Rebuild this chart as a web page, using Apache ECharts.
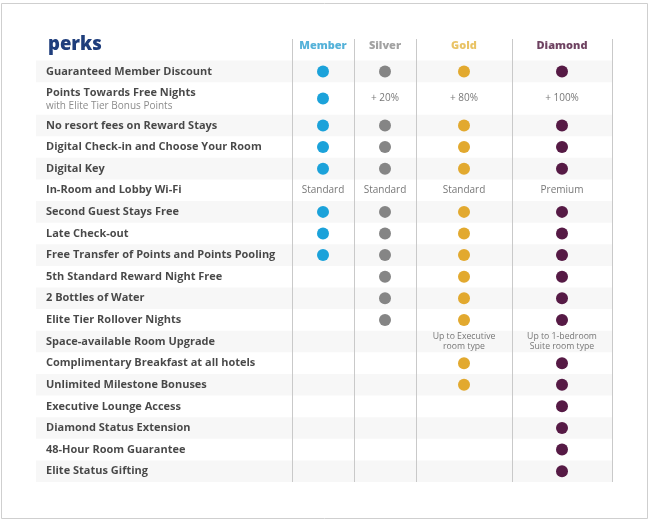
<!DOCTYPE html>
<html>
<head>
<meta charset="utf-8">
<script src="https://cdn.jsdelivr.net/npm/echarts@6/dist/echarts.min.js"></script>
<style>
html, body { margin: 0; padding: 0; background: #fff; }
#chart { width: 649px; height: 521px; }
</style>
</head>
<body>
<div id="chart"></div>
<script>
/* perks table */
var tiers = ['Member', 'Silver', 'Gold', 'Diamond'];
var perks = [
    'Guaranteed Member Discount',
    'Points Towards Free Nights',
    'No resort fees on Reward Stays',
    'Digital Check-in and Choose Your Room',
    'Digital Key',
    'In-Room and Lobby Wi-Fi',
    'Second Guest Stays Free',
    'Late Check-out',
    'Free Transfer of Points and Points Pooling',
    '5th Standard Reward Night Free',
    '2 Bottles of Water',
    'Elite Tier Rollover Nights',
    'Space-available Room Upgrade',
    'Complimentary Breakfast at all hotels',
    'Unlimited Milestone Bonuses',
    'Executive Lounge Access',
    'Diamond Status Extension',
    '48-Hour Room Guarantee',
    'Elite Status Gifting'
];
var perkNotes = ['', 'with Elite Tier Bonus Points', '', '', '', '', '', '', '', '', '', '', '', '', '', '', '', '', ''];
// 1 = dot, 0 = nothing, text = shown as text
var member  = [1, 1, 1, 1, 1, 'Standard', 1, 1, 1, 0, 0, 0, 0, 0, 0, 0, 0, 0, 0];
var silver  = [1, '+ 20%', 1, 1, 1, 'Standard', 1, 1, 1, 1, 1, 1, 0, 0, 0, 0, 0, 0, 0];
var gold    = [1, '+ 80%', 1, 1, 1, 'Standard', 1, 1, 1, 1, 1, 1, 'Up to Executive\nroom type', 1, 1, 0, 0, 0, 0];
var diamond = [1, '+ 100%', 1, 1, 1, 'Premium', 1, 1, 1, 1, 1, 1, 'Up to 1-bedroom\nSuite room type', 1, 1, 1, 1, 1, 1];
var tierValues = [member, silver, gold, diamond];

// layout
var dotColors = ['#1ba2da', '#858585', '#e2a92f', '#561a45'];
var headColors = ['#2b9fd0', '#8b8b8b', '#e4b43e', '#4a1339'];
var colEdges = [0, 256, 318, 380, 476, 576];
var rowSpan = perks.map(function (p, i) { return perkNotes[i] ? 1.5 : 1; });
var rowTop = [];
var acc = 0;
rowSpan.forEach(function (s) { rowTop.push(acc); acc += s; });
var rowEnd = acc;
function rowMid(i) { return rowTop[i] + rowSpan[i] / 2; }
function colMid(j) { return (colEdges[j + 1] + colEdges[j + 2]) / 2; }

var font = 'Open Sans';
var myChart = echarts.init(document.getElementById('chart'));

var bands = [];
perks.forEach(function (p, i) {
    if (i % 2 === 0) {
        bands.push([{ coord: [0, rowTop[i]] }, { coord: [576, rowTop[i] + rowSpan[i]] }]);
    }
});
var lines = colEdges.slice(1).map(function (e) {
    return [{ coord: [e, -1] }, { coord: [e, rowEnd] }];
});

var series = [{
    type: 'scatter',
    data: [],
    silent: true,
    z: 1,
    markArea: { silent: true, itemStyle: { color: '#f7f7f7' }, data: bands },
    markLine: {
        silent: true,
        symbol: ['none', 'none'],
        label: { show: false },
        lineStyle: { color: '#c9c9c9', width: 1, type: 'solid' },
        data: lines
    }
}, {
    type: 'scatter',
    symbolSize: 0,
    silent: true,
    z: 3,
    data: perks.map(function (p, i) {
        return { name: p, value: [10, rowMid(i)], note: perkNotes[i] };
    }),
    label: {
        show: true,
        position: 'right',
        distance: 0,
        formatter: function (d) {
            return d.data.note ? '{a|' + d.name + '}\n{b|' + d.data.note + '}' : '{a|' + d.name + '}';
        },
        rich: {
            a: { fontFamily: font, fontWeight: 'bold', fontSize: 11, color: '#1a1a1a', lineHeight: 15 },
            b: { fontFamily: font, fontSize: 10, color: '#6e6e6e', lineHeight: 12 }
        }
    }
}, {
    type: 'scatter',
    symbolSize: 0,
    silent: true,
    z: 3,
    data: tiers.map(function (t, j) {
        return {
            name: t,
            value: [colMid(j), -0.68],
            label: { color: headColors[j] }
        };
    }),
    label: {
        show: true,
        position: 'inside',
        formatter: '{b}',
        fontFamily: font,
        fontWeight: 800,
        fontSize: 11
    }
}];

tierValues.forEach(function (vals, j) {
    var dots = [], texts = [];
    vals.forEach(function (v, i) {
        if (v === 1) dots.push([colMid(j), rowMid(i)]);
        else if (typeof v === 'string') texts.push({ name: v, value: [colMid(j), rowMid(i)] });
    });
    series.push({
        name: tiers[j],
        type: 'scatter',
        symbolSize: 12,
        silent: true,
        z: 4,
        itemStyle: { color: dotColors[j], opacity: 1 },
        data: dots
    });
    series.push({
        type: 'scatter',
        symbolSize: 0,
        silent: true,
        z: 4,
        data: texts,
        label: {
            show: true,
            position: 'inside',
            formatter: function (d) {
                return d.name.indexOf('\n') > -1 ? '{s|' + d.name.replace('\n', '}\n{s|') + '}' : '{m|' + d.name + '}';
            },
            rich: {
                m: { fontFamily: font, fontSize: 10, color: '#555' },
                s: { fontFamily: font, fontSize: 8.7, color: '#555', lineHeight: 9.5, align: 'center' }
            }
        }
    });
});

var option = {
    animation: false,
    backgroundColor: '#fff',
    title: {
        text: 'perks',
        left: 43,
        top: 30,
        textStyle: { fontFamily: font, fontWeight: 800, fontSize: 18.5, color: '#1f3e7c' }
    },
    graphic: [{
        type: 'rect',
        shape: { x: 1.5, y: 3.5, width: 646, height: 515 },
        style: { fill: 'none', stroke: '#cfcfcf', lineWidth: 1 },
        silent: true
    }],
    grid: { left: 36, right: 37, top: 39, bottom: 39 },
    xAxis: {
        type: 'value', min: 0, max: 576,
        axisLine: { show: false }, axisTick: { show: false },
        axisLabel: { show: false }, splitLine: { show: false }
    },
    yAxis: {
        type: 'value', min: -1, max: rowEnd, inverse: true,
        axisLine: { show: false }, axisTick: { show: false },
        axisLabel: { show: false }, splitLine: { show: false }
    },
    series: series
};
myChart.setOption(option);
</script>
</body>
</html>
